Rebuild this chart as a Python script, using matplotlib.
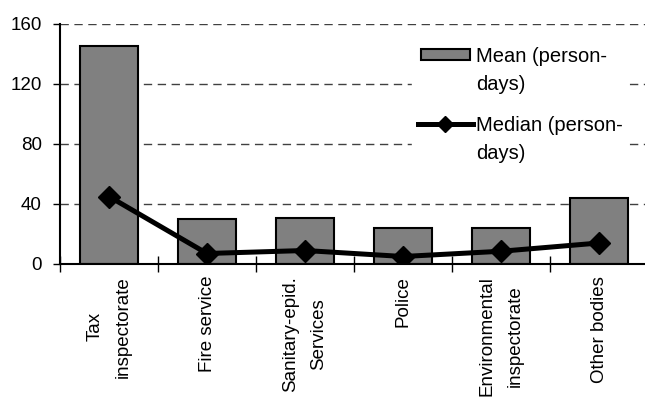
import matplotlib
matplotlib.use("Agg")
import matplotlib.pyplot as plt
import matplotlib.patches as mpatches
from matplotlib.legend_handler import HandlerLine2D, HandlerPatch
import numpy as np

plt.rcParams['font.family'] = ['Liberation Sans', 'DejaVu Sans']

# inspection bodies and time spent (person-days)
bodies = ["Tax\ninspectorate", "Fire service", "Sanitary-epid.\nServices", "Police",
          "Environmental\ninspectorate", "Other bodies"]
mean_days = [145, 30, 31, 24, 24, 44]
median_days = [45, 7, 9, 5, 8.5, 14]

KEY_Y = 1.16   # key centre above the legend baseline, in font sizes


# legend keys sit next to the first line of a two-line label
def top_rect(legend, orig_handle, xdescent, ydescent, width, height, fontsize):
    h = 0.55 * fontsize
    inset = 0.12 * fontsize
    return mpatches.Rectangle((-xdescent + inset, KEY_Y * fontsize - h / 2),
                              width - 2 * inset, h)


class TopLine(HandlerLine2D):
    def create_artists(self, legend, orig_handle, xdescent, ydescent, width, height,
                       fontsize, trans):
        artists = super().create_artists(legend, orig_handle, xdescent, ydescent,
                                         width, height, fontsize, trans)
        for a in artists:
            a.set_ydata(np.full_like(np.asarray(a.get_xdata(), float), KEY_Y * fontsize))
        return artists


fig = plt.figure(figsize=(6.45, 3.97), dpi=100)
ax = fig.add_axes([60/645, 1 - 264/397, 588/645, 240/397])

x = np.arange(len(bodies))
bars = ax.bar(x, mean_days, width=0.6, color="#808080", edgecolor="black", linewidth=1.5,
              zorder=2)
line, = ax.plot(x, median_days, color="black", linewidth=3.6, marker="D", markersize=11,
                zorder=3)

ax.set_xlim(-0.5, len(bodies) - 0.5)
ax.set_ylim(0, 160)
ax.set_yticks([0, 40, 80, 120, 160])
ax.yaxis.grid(True, linestyle=(0, (6, 4)), color="#404040", linewidth=1.0, zorder=0)

# category boundaries as x ticks, names placed in between
ax.set_xticks(np.arange(len(bodies)) - 0.5)
ax.set_xticklabels([])
ax.tick_params(axis="x", direction="inout", length=12, width=1)
ax.tick_params(axis="y", direction="out", length=5, width=1, labelsize=13.5, pad=8)
for i, name in enumerate(bodies):
    ax.text(i, -8, name, rotation=90, ha="center", va="top", multialignment="center",
            fontsize=13.5, linespacing=1.85)

for s in ["top", "right"]:
    ax.spines[s].set_visible(False)
ax.spines["left"].set_linewidth(1.5)
ax.spines["bottom"].set_linewidth(1.5)

bar_key = bars[0]
leg = ax.legend([bar_key, line], ["Mean (person-\ndays)", "Median (person-\ndays)"],
                loc="upper left", bbox_to_anchor=(0.599, 0.929), borderaxespad=0,
                frameon=True, fontsize=14.5, handlelength=2.7, handleheight=0.7,
                labelspacing=1.12, borderpad=0.3, handletextpad=0.15, fancybox=False,
                markerscale=0.75,
                handler_map={bar_key: HandlerPatch(patch_func=top_rect), line: TopLine()})
for t in leg.get_texts():
    t.set_linespacing(1.58)
leg.get_frame().set_edgecolor("white")
leg.get_frame().set_facecolor("white")
leg.get_frame().set_alpha(1)

fig.savefig("out.png", dpi=100)
